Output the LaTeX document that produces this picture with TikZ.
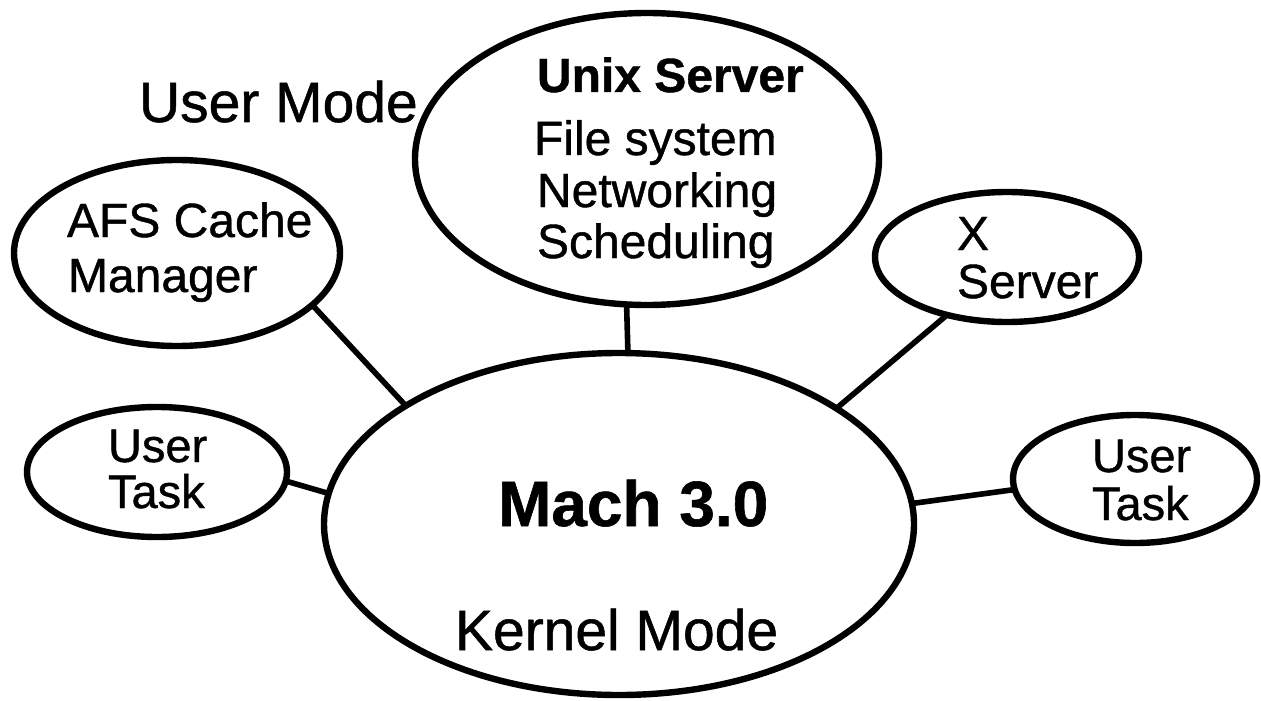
\documentclass[tikz,border=0pt]{standalone}
\usepackage{fontspec}
\setmainfont{Liberation Sans}
\newfontfamily\heavyfont[FakeBold=0.9]{Liberation Sans}
\newfontfamily\heavybold[FakeBold=0.9]{Liberation Sans Bold}
\usetikzlibrary{shapes.geometric}
\begin{document}
\begin{tikzpicture}[x=0.5pt,y=-0.5pt,
  oval/.style={draw, ellipse, line width=3.2pt, inner sep=0pt, outer sep=0pt},
  link/.style={line width=2.8pt},
  lbl/.style={anchor=base west, inner sep=0pt, outer sep=0pt},
  fbig/.style={font=\heavyfont\fontsize{28.5}{30}\selectfont},
  fmid/.style={font=\heavyfont\fontsize{24}{26}\selectfont},
  fsmall/.style={font=\heavyfont\fontsize{23.5}{25}\selectfont},
  fbold/.style={font=\heavybold\fontsize{24}{26}\selectfont},
  fmach/.style={font=\heavybold\fontsize{32}{34}\selectfont}
]
\useasboundingbox (0,0) rectangle (1261,700);

% ellipses
\node[oval, minimum width=464pt*0.5, minimum height=292pt*0.5] (unix) at (647,159) {};
\node[oval, minimum width=326pt*0.5, minimum height=186pt*0.5] (afs) at (177,253) {};
\node[oval, minimum width=264pt*0.5, minimum height=130pt*0.5] (xsrv) at (1007,257) {};
\node[oval, minimum width=260pt*0.5, minimum height=130pt*0.5] (utl) at (157,472) {};
\node[oval, minimum width=244pt*0.5, minimum height=128pt*0.5] (utr) at (1135,479) {};
\node[oval, minimum width=590pt*0.5, minimum height=342pt*0.5] (mach) at (619,524) {};

% connectors
\draw[link] (unix.-98.2) -- (mach.87.7);
\draw[link] (afs.-21) -- (mach.151.4);
\draw[link] (xsrv.-136) -- (mach.28.6);
\draw[link] (utl.-4.4) -- (mach.174);
\draw[link] (utr.185.2) -- (mach.4.1);

% labels
\node[lbl, fbig] (usermode) at (139,122) {User Mode};
\node[lbl, fbold] (unixt) at (537,92) {Unix Server};
\node[lbl, fmid] (fs) at (534,155) {File system};
\node[lbl, fmid] (net) at (537,207) {Networking};
\node[lbl, fmid] (sched) at (537,258) {Scheduling};
\node[lbl, fmid] (afs1) at (67,237) {AFS Cache};
\node[lbl, fmid] (afs2) at (68,292) {Manager};
\node[lbl, fmid] (x1) at (957,250) {X};
\node[lbl, fmid] (x2) at (957,298) {Server};
\node[lbl, fsmall] (utl1) at (108,462) {User};
\node[lbl, fsmall] (utl2) at (108,508) {Task};
\node[lbl, fsmall] (utr1) at (1092,472) {User};
\node[lbl, fsmall] (utr2) at (1092,520) {Task};
\node[lbl, fmach] (macht) at (498,526) {Mach 3.0};
\node[lbl, fbig] (kernel) at (455,650) {Kernel Mode};
\end{tikzpicture}
\end{document}
